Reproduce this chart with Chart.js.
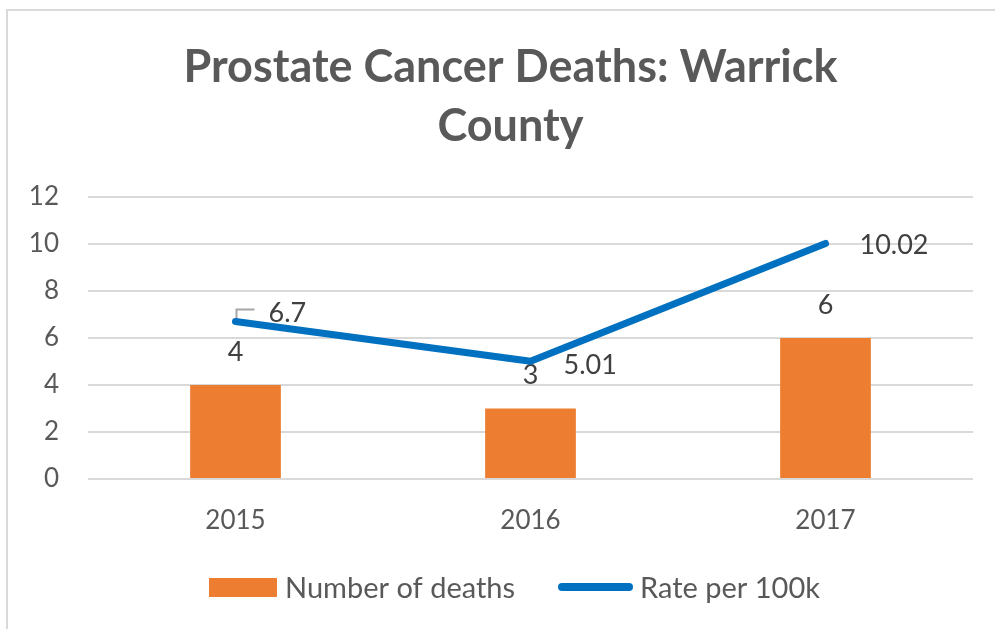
<!DOCTYPE html>
<html>
<head>
<meta charset="utf-8">
<script src="https://cdn.jsdelivr.net/npm/chart.js@4"></script>
<style>
  html, body { margin: 0; padding: 0; background: #ffffff; }
  #wrap { position: relative; width: 995px; height: 629px; overflow: hidden; }
  #frame { position: absolute; left: 6px; top: 9px; width: 1100px; height: 700px;
           border-left: 2px solid #d9d9d9; border-top: 2px solid #d9d9d9; }
  canvas { position: absolute; left: 0; top: 0; }
</style>
</head>
<body>
<div id="wrap">
  <div id="frame"></div>
  <canvas id="chart" width="995" height="629"></canvas>
</div>
<script>
// Annual prostate cancer deaths and rate per 100k, Warrick County
const years = ['2015', '2016', '2017'];
const deaths = [4, 3, 6];
const ratePer100k = [6.7, 5.01, 10.02];
const yTicks = [0, 2, 4, 6, 8, 10, 12];

const titleLines = ['Prostate Cancer Deaths: Warrick', 'County'];
const seriesNames = ['Number of deaths', 'Rate per 100k'];

const ORANGE = '#ed7d31';
const BLUE = '#0070c0';
const AXIS_TEXT = '#595959';
const LABEL_TEXT = '#404040';
const FONT = 'Lato, "Open Sans", sans-serif';

// Label placement for the rate series (left-aligned, right of each point)
const rateLabelShift = [[33, -8.5], [33, 4.5], [34, 1.5]];

// The title sits slightly right of the plot's centre
const titleShift = {
  id: 'titleShift',
  afterLayout(chart) {
    const tb = chart.titleBlock;
    if (tb) { tb.left += 14; tb.right += 14; }
  }
};

const valueLabels = {
  id: 'valueLabels',
  afterDatasetDraw(chart, args) {
    const ctx = chart.ctx;
    const meta = args.meta;
    if (args.index === 0) {
      // bar values above each bar
      ctx.save();
      ctx.font = '27px ' + FONT;
      ctx.fillStyle = LABEL_TEXT;
      ctx.textAlign = 'center';
      ctx.textBaseline = 'middle';
      meta.data.forEach((bar, i) => {
        ctx.fillText(String(deaths[i]), bar.x, bar.y - 33);
      });
      ctx.restore();
    }
  },
  beforeDatasetDraw(chart, args) {
    if (args.index !== 1) return;
    // leader line for the first rate label, drawn beneath the line
    const ctx = chart.ctx;
    const p = args.meta.data[0];
    ctx.save();
    ctx.strokeStyle = '#a6a6a6';
    ctx.lineWidth = 2;
    ctx.beginPath();
    ctx.moveTo(p.x + 1, p.y - 2);
    ctx.lineTo(p.x + 1, p.y - 12);
    ctx.lineTo(p.x + 19, p.y - 12);
    ctx.stroke();
    ctx.restore();
  },
  afterDatasetsDraw(chart) {
    const ctx = chart.ctx;
    const meta = chart.getDatasetMeta(1);
    ctx.save();
    ctx.font = '27px ' + FONT;
    ctx.fillStyle = LABEL_TEXT;
    ctx.textAlign = 'left';
    ctx.textBaseline = 'middle';
    meta.data.forEach((pt, i) => {
      const s = rateLabelShift[i];
      ctx.fillText(String(ratePer100k[i]), pt.x + s[0], pt.y + s[1]);
    });
    ctx.restore();
  }
};

// Legend drawn below the x axis: swatch for bars, stroke for the line
const bottomLegend = {
  id: 'bottomLegend',
  afterDraw(chart) {
    const ctx = chart.ctx;
    ctx.save();
    ctx.font = '29px ' + FONT;
    ctx.textAlign = 'left';
    ctx.textBaseline = 'middle';
    const y = 589;
    ctx.fillStyle = ORANGE;
    ctx.fillRect(209, 578, 68, 19);
    ctx.fillStyle = AXIS_TEXT;
    ctx.fillText(seriesNames[0], 285, y);
    ctx.strokeStyle = BLUE;
    ctx.lineWidth = 8;
    ctx.lineCap = 'round';
    ctx.beginPath();
    ctx.moveTo(562, 587);
    ctx.lineTo(629, 587);
    ctx.stroke();
    ctx.fillText(seriesNames[1], 640, y);
    ctx.restore();
  }
};

new Chart(document.getElementById('chart'), {
  type: 'bar',
  data: {
    labels: years,
    datasets: [
      {
        type: 'bar',
        label: seriesNames[0],
        data: deaths,
        backgroundColor: ORANGE,
        borderWidth: 0,
        barPercentage: 0.3075,
        categoryPercentage: 1,
        order: 1
      },
      {
        type: 'line',
        label: seriesNames[1],
        data: ratePer100k,
        borderColor: BLUE,
        backgroundColor: BLUE,
        borderWidth: 7,
        borderCapStyle: 'round',
        borderJoinStyle: 'round',
        pointRadius: 0,
        pointHoverRadius: 0,
        tension: 0,
        fill: false,
        order: 0
      }
    ]
  },
  options: {
    responsive: false,
    animation: false,
    devicePixelRatio: 1,
    layout: { padding: { left: 20, right: 22, top: 0, bottom: 70 } },
    plugins: {
      legend: { display: false },
      tooltip: { enabled: false },
      title: {
        display: true,
        text: titleLines,
        color: AXIS_TEXT,
        font: { family: FONT, size: 45, weight: 'bold', lineHeight: 1.31 },
        padding: { top: 38, bottom: 41 }
      }
    },
    scales: {
      x: {
        grid: { display: false, drawTicks: false },
        border: { display: false },
        ticks: { color: AXIS_TEXT, font: { family: FONT, size: 26 }, padding: 26 },
        afterFit(scale) { scale.height = 80; }
      },
      y: {
        min: 0,
        max: 12,
        afterBuildTicks(scale) { scale.ticks = yTicks.map(v => ({ value: v })); },
        grid: { color: '#d9d9d9', lineWidth: 2, drawTicks: false },
        border: { display: false },
        ticks: { color: AXIS_TEXT, font: { family: FONT, size: 26 }, padding: 29 },
        afterFit(scale) { scale.width = 68; }
      }
    }
  },
  plugins: [titleShift, valueLabels, bottomLegend]
});
</script>
</body>
</html>
